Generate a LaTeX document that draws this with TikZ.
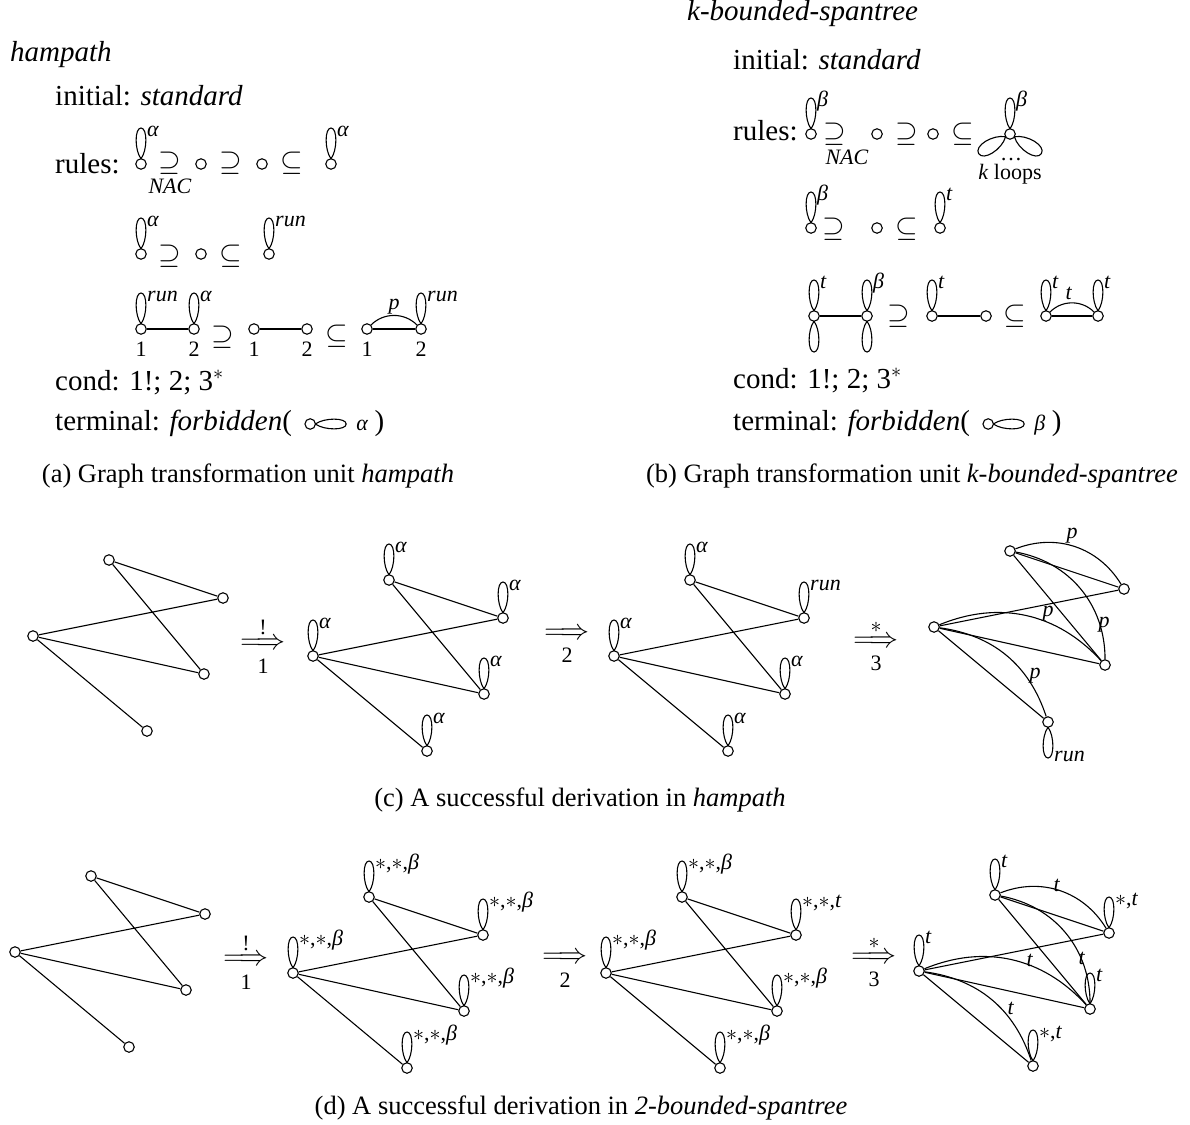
\documentclass[tikz,border=0pt]{standalone}
\usepackage{fix-cm}
\usepackage{fontspec}
\setmainfont{Liberation Serif}
\usetikzlibrary{calc}
\newcommand\mainsz{\fontsize{29}{34}\selectfont}
\newcommand\lblsz{\fontsize{22}{26}\selectfont}
\newcommand\capsz{\fontsize{26.5}{31}\selectfont}
\tikzset{
 vtx/.style={circle,draw,line width=1.1pt,minimum size=10.5pt,inner sep=0pt},
 edg/.style={line width=1.1pt},
 lbl/.style={font=\lblsz,inner sep=0pt},
 txt/.style={font=\mainsz,inner sep=0pt,anchor=base west},
 rel/.style={font=\mainsz,inner sep=0pt},
 capt/.style={font=\capsz,inner sep=0pt,anchor=base},
 lp/.pic={\draw[edg] (0,-5.2) .. controls (-6.5,-14) and (-6.5,-36) .. (0,-36)
                     .. controls (6.5,-36) and (6.5,-14) .. (0,-5.2);},
 lpw/.pic={\draw[edg] (0,-5.2) .. controls (-9,-15) and (-9,-37) .. (0,-37)
                     .. controls (9,-37) and (9,-15) .. (0,-5.2);}
}
% loop above a node with a label
\newcommand\uloop[2]{\pic at (#1) {lp}; \node[lbl,anchor=base west] (#1l) at ($(#1)+(6,-28)$) {#2};}
% the five-node graph of the derivations
\newcommand\dgraph[3]{%
 \node[vtx] (#1C) at (#2,#3) {};
 \node[vtx] (#1A) at ($(#1C)+(76,-76)$) {};
 \node[vtx] (#1B) at ($(#1C)+(190,-38)$) {};
 \node[vtx] (#1D) at ($(#1C)+(171,38)$) {};
 \node[vtx] (#1E) at ($(#1C)+(114,95)$) {};
 \draw[edg] (#1A)--(#1B) (#1A)--(#1D) (#1C)--(#1B) (#1C)--(#1D) (#1C)--(#1E);
}
\newcommand\sab{{$\ast$,$\ast$,\textit{β}}}
\newcommand\sat{{$\ast$,$\ast$,\textit{t}}}
\begin{document}
\begin{tikzpicture}[x=1pt,y=-1pt]
\useasboundingbox (0,0) rectangle (1190,1124);

% ---------------- (a) hampath ----------------
\node[txt,font=\mainsz\itshape] (hname) at (10,61) {hampath};
\node[txt] (hinit) at (55,105) {initial: \textit{standard}};
\node[txt] (hrules) at (55,173) {rules:};
% rule 1
\node[vtx] (ha1) at (141,164) {}; \uloop{ha1}{\textit{α}}
\node[rel] (hs1) at (170,163) {$\supseteq$};
\node[lbl] (hnac) at (170,186) {\textit{NAC}};
\node[vtx] (hb1) at (201,164) {};
\node[rel] (hs2) at (231,163) {$\supseteq$};
\node[vtx] (hc1) at (262,164) {};
\node[rel] (hs3) at (292,163) {$\subseteq$};
\node[vtx] (hd1) at (331,164) {}; \uloop{hd1}{\textit{α}}
% rule 2
\node[vtx] (ha2) at (141,254) {}; \uloop{ha2}{\textit{α}}
\node[rel] (hs4) at (170,256) {$\supseteq$};
\node[vtx] (hb2) at (201,254) {};
\node[rel] (hs5) at (231,256) {$\subseteq$};
\node[vtx] (hc2) at (269,254) {}; \uloop{hc2}{\textit{run}}
% rule 3
\node[vtx] (ha3) at (141,329) {}; \uloop{ha3}{\textit{run}}
\node[vtx] (hb3) at (194,329) {}; \uloop{hb3}{\textit{α}}
\draw[edg] (ha3)--(hb3);
\node[lbl] (hn1) at (141,349) {1}; \node[lbl] (hn2) at (194,349) {2};
\node[rel] (hs6) at (223,337) {$\supseteq$};
\node[vtx] (hc3) at (254,329) {}; \node[vtx] (hd3) at (307,329) {};
\draw[edg] (hc3)--(hd3);
\node[lbl] (hn3) at (254,349) {1}; \node[lbl] (hn4) at (307,349) {2};
\node[rel] (hs7) at (337,336) {$\subseteq$};
\node[vtx] (he3) at (367,329) {}; \node[vtx] (hf3) at (421,329) {}; \uloop{hf3}{\textit{run}}
\draw[edg] (he3)--(hf3);
\draw[edg] (he3) to[bend left=45] (hf3);
\node[lbl] (hp) at (394,307) {\textit{p}};
\node[lbl] (hn5) at (367,349) {1}; \node[lbl] (hn6) at (421,349) {2};
% cond / terminal
\node[txt] (hcond) at (55,390) {cond: 1!; 2; 3$^{\ast}$};
\node[txt] (hterm) at (55,430) {terminal: \textit{forbidden}(};
\node[vtx] (htv) at ($(hterm.base east)+(18,-6)$) {};
\pic[rotate=-90] at (htv) {lp};
\node[lbl,anchor=base west] (hta) at ($(htv)+(46,6)$) {\textit{α}};
\node[txt] (htp) at ($(hta.base east)+(6,0)$) {)};
\node[capt] (capa) at (248,482) {(a) Graph transformation unit \textit{hampath}};

% ---------------- (b) k-bounded-spantree ----------------
\node[txt,font=\mainsz\itshape] (kname) at (687,21) {k-bounded-spantree};
\node[txt] (kinit) at (733,70) {initial: \textit{standard}};
\node[txt] (krules) at (733,140) {rules:};
% rule 1
\node[vtx] (ka1) at (811,134) {}; \uloop{ka1}{\textit{β}}
\node[rel] (ks1) at (835,134) {$\supseteq$};
\node[lbl] (knac) at (847,157) {\textit{NAC}};
\node[vtx] (kb1) at (877,134) {};
\node[rel] (ks2) at (907,134) {$\supseteq$};
\node[vtx] (kc1) at (933,134) {};
\node[rel] (ks3) at (963,134) {$\subseteq$};
\node[vtx] (kst) at (1010,134) {}; \uloop{kst}{\textit{β}}
\pic[rotate=122] at (kst) {lpw};
\pic[rotate=-122] at (kst) {lpw};
\node[lbl,anchor=base] (kdots) at (1011,160) {\dots};
\node[lbl,anchor=base] (kloops) at (1010,179) {\textit{k} loops};
% rule 2
\node[vtx] (ka2) at (811,228) {}; \uloop{ka2}{\textit{β}}
\node[rel] (ks4) at (834,229) {$\supseteq$};
\node[vtx] (kb2) at (877,228) {};
\node[rel] (ks5) at (907,229) {$\subseteq$};
\node[vtx] (kc2) at (940,228) {}; \uloop{kc2}{\textit{t}}
% rule 3
\node[vtx] (ka3) at (814,316) {}; \uloop{ka3}{\textit{t}}
\pic[rotate=180] at (ka3) {lp};
\node[vtx] (kb3) at (867,316) {}; \uloop{kb3}{\textit{β}}
\pic[rotate=180] at (kb3) {lp};
\draw[edg] (ka3)--(kb3);
\node[rel] (ks6) at (899,316) {$\supseteq$};
\node[vtx] (kc3) at (932,316) {}; \uloop{kc3}{\textit{t}}
\node[vtx] (kd3) at (986,316) {};
\draw[edg] (kc3)--(kd3);
\node[rel] (ks7) at (1015,316) {$\subseteq$};
\node[vtx] (ke3) at (1046,316) {}; \uloop{ke3}{\textit{t}}
\node[vtx] (kf3) at (1098,316) {}; \uloop{kf3}{\textit{t}}
\draw[edg] (ke3)--(kf3);
\draw[edg] (ke3) to[bend left=45] (kf3);
\node[lbl] (kt) at (1069,293) {\textit{t}};
% cond / terminal
\node[txt] (kcond) at (733,388) {cond: 1!; 2; 3$^{\ast}$};
\node[txt] (kterm) at (733,430) {terminal: \textit{forbidden}(};
\node[vtx] (ktv) at ($(kterm.base east)+(18,-6)$) {};
\pic[rotate=-90] at (ktv) {lp};
\node[lbl,anchor=base west] (ktb) at ($(ktv)+(46,6)$) {\textit{β}};
\node[txt] (ktp) at ($(ktb.base east)+(6,0)$) {)};
\node[capt] (capb) at (912,482) {(b) Graph transformation unit \textit{k-bounded-spantree}};

% ---------------- (c) derivation in hampath ----------------
\dgraph{ca}{33}{636}
\node[rel] (car1) at (263,644) {$\Longrightarrow$};
\node[lbl] (car1t) at (263,627) {!};
\node[lbl] (car1b) at (263,666) {1};
\dgraph{cb}{313}{656}
\uloop{cbC}{\textit{α}} \uloop{cbA}{\textit{α}} \uloop{cbB}{\textit{α}} \uloop{cbD}{\textit{α}} \uloop{cbE}{\textit{α}}
\node[rel] (car2) at (567,634) {$\Longrightarrow$};
\node[lbl] (car2b) at (567,655) {2};
\dgraph{cc}{614}{656}
\uloop{ccC}{\textit{α}} \uloop{ccA}{\textit{α}} \uloop{ccB}{\textit{run}} \uloop{ccD}{\textit{α}} \uloop{ccE}{\textit{α}}
\node[rel] (car3) at (876,642) {$\Longrightarrow$};
\node[lbl] (car3t) at (876,627) {$\ast$};
\node[lbl] (car3b) at (876,663) {3};
\dgraph{cd}{934}{627}
\draw[edg] (cdA) to[bend left=40] (cdB);
\draw[edg] (cdA) to[bend left=40] (cdD);
\draw[edg] (cdC) to[bend left=35] (cdD);
\draw[edg] (cdC) to[bend left=32] (cdE);
\node[lbl] (cp1) at (1072,536) {\textit{p}};
\node[lbl] (cp2) at (1048,614) {\textit{p}};
\node[lbl] (cp3) at (1104,625) {\textit{p}};
\node[lbl] (cp4) at (1035,676) {\textit{p}};
\pic[rotate=180] at (cdE) {lp};
\node[lbl,anchor=base west] (cdEl) at ($(cdE)+(6,39)$) {\textit{run}};
\node[capt] (capc) at (580,806) {(c) A successful derivation in \textit{hampath}};

% ---------------- (d) derivation in 2-bounded-spantree ----------------
\dgraph{da}{15}{952}
\node[rel] (dar1) at (246,960) {$\Longrightarrow$};
\node[lbl] (dar1t) at (246,943) {!};
\node[lbl] (dar1b) at (246,982) {1};
\dgraph{db}{293}{973}
\uloop{dbC}{\sab} \uloop{dbA}{\sab} \uloop{dbB}{\sab} \uloop{dbD}{\sab} \uloop{dbE}{\sab}
\node[rel] (dar2) at (565,958) {$\Longrightarrow$};
\node[lbl] (dar2b) at (565,980) {2};
\dgraph{dc}{606}{973}
\uloop{dcC}{\sab} \uloop{dcA}{\sab} \uloop{dcB}{\sat} \uloop{dcD}{\sab} \uloop{dcE}{\sab}
\node[rel] (dar3) at (874,958) {$\Longrightarrow$};
\node[lbl] (dar3t) at (874,943) {$\ast$};
\node[lbl] (dar3b) at (874,979) {3};
\dgraph{dd}{919}{971}
\uloop{ddC}{\textit{t}} \uloop{ddA}{\textit{t}} \uloop{ddB}{{$\ast$,\textit{t}}} \uloop{ddD}{\textit{t}} \uloop{ddE}{{$\ast$,\textit{t}}}
\draw[edg] (ddA) to[bend left=40] (ddB);
\draw[edg] (ddA) to[bend left=40] (ddD);
\draw[edg] (ddC) to[bend left=35] (ddD);
\draw[edg] (ddC) to[bend left=32] (ddE);
\node[lbl] (dt1) at (1057,885) {\textit{t}};
\node[lbl] (dt2) at (1030,960) {\textit{t}};
\node[lbl] (dt3) at (1082,958) {\textit{t}};
\node[lbl] (dt4) at (1011,1008) {\textit{t}};
\node[capt] (capd) at (581,1114) {(d) A successful derivation in \textit{2-bounded-spantree}};
\end{tikzpicture}
\end{document}
